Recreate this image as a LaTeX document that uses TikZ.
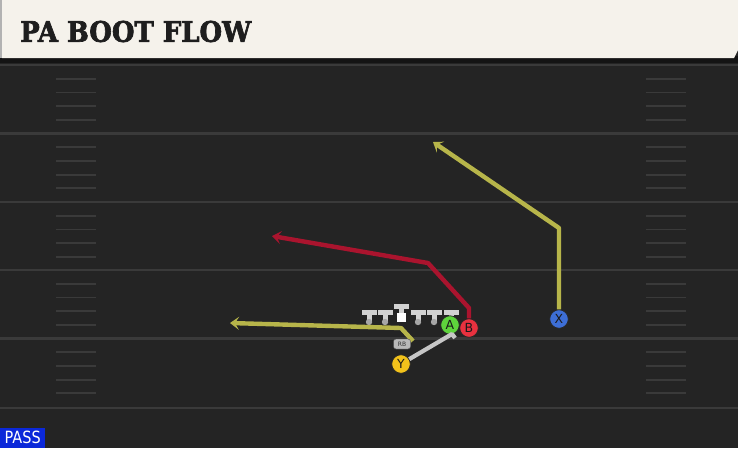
\documentclass[tikz,border=0pt]{standalone}
\usepackage{fontspec}
\setmainfont{DejaVu Sans}
\newfontfamily\titlefont{DejaVu Serif}[BoldFeatures={FakeBold=2.5}]
\usepackage{graphicx}
\usetikzlibrary{arrows.meta}

\definecolor{field}{HTML}{242424}
\definecolor{yardline}{HTML}{3A3A3A}
\definecolor{cream}{HTML}{F5F2EB}
\definecolor{titleink}{HTML}{1E1E1E}
\definecolor{passblue}{HTML}{0B28D9}
\definecolor{olive}{HTML}{B7B54A}
\definecolor{crimson}{HTML}{AA142E}
\definecolor{xblue}{HTML}{3D6ED6}
\definecolor{agreen}{HTML}{5ED43C}
\definecolor{bred}{HTML}{E8313F}
\definecolor{yyellow}{HTML}{F2C21B}
\definecolor{lineman}{HTML}{D2D2D2}

\begin{document}
\begin{tikzpicture}[x=1pt, y=-1pt,
    player/.style={circle, draw=black!85, line width=0.7pt, minimum size=18.5pt,
        inner sep=0pt, text=black!90, font=\fontsize{12.5}{12.5}\selectfont},
    route/.style={line width=4.4pt, line join=round,
        -{Stealth[length=9pt, width=13pt, inset=4pt]}},
    hash/.style={yardline, line width=1.8pt},
    ]
    \useasboundingbox (0,0) rectangle (738,448);

    % field
    \fill[field] (0,0) rectangle (738,448);
    \foreach \y in {65,133.5,202,270,338.5,408}
	\draw[yardline, line width=2.2pt] (0,\y) -- (738,\y);
    \foreach \y in {65,133.5,202,270,338.5}
	\foreach \k in {1,...,4} {
	    \draw[hash] (56,{\y+13.7*\k}) -- (96,{\y+13.7*\k});
	    \draw[hash] (646,{\y+13.7*\k}) -- (686,{\y+13.7*\k});
	}

    % title bar
    \fill[black!92] (0,56) rectangle (738,63);
    \fill[cream] (2,0) -- (738,0) -- (738,50) -- (734,58) -- (2,58) -- cycle;
    \fill[gray!60] (0,0) rectangle (2,58);
    \node[anchor=west, inner sep=0pt, text=titleink] (title) at (20,31.5)
	{\resizebox{231pt}{21pt}{\titlefont\bfseries PA BOOT FLOW}};

    % line
    \foreach \x in {369,385,418,434,451} {
	\fill[lineman] ({\x-7.5},309.5) rectangle ({\x+7.5},314.5);
	\fill[lineman] ({\x-2.5},314) rectangle ({\x+2.5},322);
	\fill[gray!70] (\x,322) circle (3.2pt);
    }
    \fill[lineman] (393.5,303.5) rectangle (408.5,308.5);
    \fill[lineman] (398.5,308) rectangle (403.5,314);
    \fill[white] (396.5,313) rectangle (405.5,322);

    % players
    \node[player, fill=xblue] (X) at (559,319) {X};
    \node[player, fill=agreen] (A) at (450,325) {A};
    \node[player, fill=bred] (B) at (469,328) {B};
    \node[player, fill=yyellow] (Y) at (401,364) {Y};

    % routes
    \coordinate (xbreak) at (559,228);
    \coordinate (xend) at (433,142);
    \draw[route, olive] (X) -- (xbreak) -- (xend);

    \coordinate (bstem) at (469,308);
    \coordinate (bbreak) at (428,263);
    \coordinate (bend) at (272,236);
    \draw[route, crimson] (B) -- (bstem) -- (bbreak) -- (bend);

    \coordinate (rbstart) at (413,341);
    \coordinate (rbbreak) at (401,328);
    \coordinate (rbend) at (230,323);
    \draw[route, olive] (rbstart) -- (rbbreak) -- (rbend);

    \coordinate (ytip) at (452,334);
    \draw[gray!45, line width=4.2pt, line join=round] (Y) -- (ytip) -- ++(3,4);

    \node[fill=gray!55, draw=black!70, line width=0.4pt, rounded corners=2.5pt,
	inner sep=0pt, minimum width=17pt, minimum height=10pt, text=black!80,
	font=\fontsize{6}{6}\selectfont] (RB) at (402,344) {RB};

    % play type
    \node[fill=passblue, text=white, anchor=south west, inner sep=0pt,
	minimum width=45pt, minimum height=20pt] (pass) at (0,448)
	{\resizebox{36pt}{12.5pt}{PASS}};
\end{tikzpicture}
\end{document}
